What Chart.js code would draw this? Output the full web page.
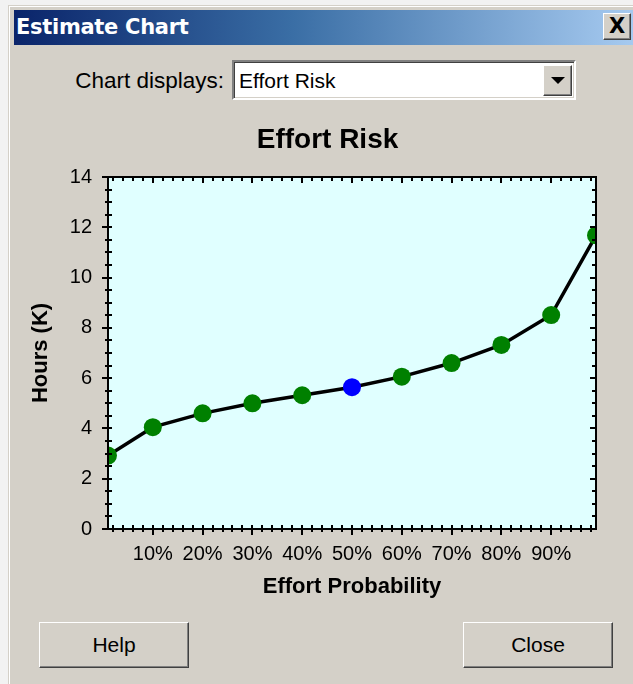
<!DOCTYPE html>
<html>
<head>
<meta charset="utf-8">
<script src="https://cdn.jsdelivr.net/npm/chart.js@4"></script>
<style>
html,body{margin:0;padding:0;width:633px;height:684px;overflow:hidden;background:#f2f2f2;font-family:"Liberation Sans",Arial,sans-serif;}
.abs{position:absolute;box-sizing:border-box;}
#win{left:9px;top:6px;width:640px;height:700px;background:#d4d0c8;border-left:1px solid #fff;border-top:1px solid #fff;outline:1px solid #d4d0c8;}
#titlebar{left:14px;top:10px;width:619px;height:35px;background:linear-gradient(to right,#0a246a 0%,#3a6ea5 45%,#a6caf0 100%);}
#titletext{left:16px;top:10px;height:35px;color:#fff;font:bold 21px "DejaVu Sans",sans-serif;line-height:35px;letter-spacing:-0.3px;white-space:nowrap;}
.raised{background:#d4d0c8;border:1px solid;border-color:#fff #404040 #404040 #fff;box-shadow:inset -1px -1px 0 #808080, inset 1px 1px 0 #d4d0c8;}
#closex{left:603px;top:13px;width:28px;height:27px;text-align:center;font:bold 21px "DejaVu Sans",sans-serif;line-height:25px;color:#000;}
#lbl{left:40px;top:66px;width:184px;height:30px;line-height:30px;text-align:right;font-size:22.5px;color:#000;white-space:nowrap;}
#combo{left:232px;top:60px;width:344px;height:40px;background:#fff;border:2px solid;border-color:#808080 #fff #fff #808080;box-shadow:inset 1px 1px 0 #404040, inset -1px -1px 0 #d4d0c8;}
#combotext{left:239px;top:66px;height:30px;line-height:30px;font-size:21px;color:#000;white-space:nowrap;}
#drop{left:543px;top:65px;width:29px;height:31px;}
#tri{left:551px;top:77px;width:0;height:0;border-left:7px solid transparent;border-right:7px solid transparent;border-top:7px solid #000;}
.btn{top:622px;height:46px;line-height:44px;text-align:center;font-size:21px;color:#000;}
#help{left:39px;width:150px;}
#close{left:463px;width:150px;}
#chart{position:absolute;left:0;top:105px;}
</style>
</head>
<body>
<div id="win" class="abs"></div>
<div id="titlebar" class="abs"></div>
<div id="titletext" class="abs">Estimate Chart</div>
<div id="closex" class="abs raised">X</div>
<div id="lbl" class="abs">Chart displays:</div>
<div id="combo" class="abs"></div>
<div id="combotext" class="abs">Effort Risk</div>
<div id="drop" class="abs raised"></div>
<div id="tri" class="abs"></div>
<div id="help" class="abs raised btn">Help</div>
<div id="close" class="abs raised btn">Close</div>
<canvas id="chart" width="633" height="510"></canvas>
<script>
// ---- data ----
const probabilities = [1, 10, 20, 30, 40, 50, 60, 70, 80, 90, 99];      // Effort probability (%)
const hoursK = [2.92, 4.05, 4.6, 5.0, 5.32, 5.64, 6.06, 6.6, 7.32, 8.51, 11.68]; // Hours (K)
const xTickValues = [10, 20, 30, 40, 50, 60, 70, 80, 90];
const yTickValues = [0, 2, 4, 6, 8, 10, 12, 14];
const highlightedProbability = 50;
const chartTitle = 'Effort Risk';
const xTitle = 'Effort Probability';
const yTitle = 'Hours (K)';

const FONT = '"Liberation Sans", Arial, sans-serif';
const X_MIN = 1, X_MAX = 99, Y_MIN = 0, Y_MAX = 14;
const X_MINOR = 2, Y_MINOR = 0.5;

const frameAndTicks = {
  id: 'frameAndTicks',
  beforeDatasetsDraw(chart) {
    const {ctx, chartArea: a} = chart;
    ctx.save();
    ctx.fillStyle = '#e0ffff';
    ctx.fillRect(a.left, a.top, a.right - a.left, a.bottom - a.top);
    ctx.restore();
  },
  afterDatasetsDraw(chart) {
    const {ctx, chartArea: a, scales: {x, y}} = chart;
    ctx.save();
    ctx.strokeStyle = '#000';
    ctx.lineWidth = 2;
    ctx.beginPath();
    // y-axis ticks (left crossing, right inward)
    for (let v = Y_MIN; v <= Y_MAX + 1e-9; v += Y_MINOR) {
      const major = yTickValues.some(t => Math.abs(t - v) < 1e-9);
      const py = Math.round(y.getPixelForValue(v));
      ctx.moveTo(a.left - (major ? 6 : 3), py);
      ctx.lineTo(a.left + 4, py);
      ctx.moveTo(a.right - (major ? 6 : 4), py);
      ctx.lineTo(a.right, py);
    }
    // x-axis ticks (bottom crossing, top inward)
    for (let v = 2; v < X_MAX; v += X_MINOR) {
      const major = xTickValues.includes(v);
      const px = Math.round(x.getPixelForValue(v));
      ctx.moveTo(px, a.bottom - 4);
      ctx.lineTo(px, a.bottom + (major ? 6 : 3));
      ctx.moveTo(px, a.top);
      ctx.lineTo(px, a.top + (major ? 6 : 4));
    }
    ctx.stroke();
    ctx.strokeRect(a.left, a.top, a.right - a.left, a.bottom - a.top);
    ctx.restore();
  }
};

new Chart(document.getElementById('chart'), {
  type: 'line',
  data: {
    datasets: [{
      data: probabilities.map((p, i) => ({x: p, y: hoursK[i]})),
      borderColor: '#000',
      borderWidth: 3.5,
      tension: 0,
      clip: 0,
      pointRadius: 9,
      pointBorderWidth: 0,
      pointBackgroundColor: ctx => probabilities[ctx.dataIndex] === highlightedProbability ? '#0000ff' : '#008000',
      pointBorderColor: ctx => probabilities[ctx.dataIndex] === highlightedProbability ? '#0000ff' : '#008000'
    }]
  },
  options: {
    responsive: false,
    animation: false,
    devicePixelRatio: 1,
    // left padding shifts the full-width title so it is centred where the reference has it
    layout: {padding: {left: 59, right: 37, top: 0, bottom: 0}},
    plugins: {
      legend: {display: false},
      tooltip: {enabled: false},
      title: {
        display: true, text: chartTitle, color: '#000',
        font: {family: FONT, size: 28, weight: 'bold', lineHeight: '30px'},
        padding: {top: 20, bottom: 22}
      }
    },
    scales: {
      x: {
        type: 'linear', min: X_MIN, max: X_MAX,
        afterBuildTicks: s => { s.ticks = xTickValues.map(v => ({value: v})); },
        afterFit: s => { s.height = 86; },
        grid: {display: false, drawTicks: false},
        border: {display: false},
        ticks: {padding: 13, color: '#000', autoSkip: false, maxRotation: 0,
                font: {family: FONT, size: 20}, callback: v => v + '%'},
        title: {display: true, text: xTitle, color: '#000',
                font: {family: FONT, size: 22, weight: 'bold'}, padding: {top: 0, bottom: 15}}
      },
      y: {
        min: Y_MIN, max: Y_MAX,
        afterBuildTicks: s => { s.ticks = yTickValues.map(v => ({value: v})); },
        afterFit: s => { s.width = 49; },
        grid: {display: false, drawTicks: false},
        border: {display: false},
        ticks: {padding: 16, color: '#000', font: {family: FONT, size: 20}},
        title: {display: true, text: yTitle, color: '#000',
                font: {family: FONT, size: 22, weight: 'bold'}, padding: {top: -31, bottom: 0}}
      }
    }
  },
  plugins: [frameAndTicks]
});
</script>
</body>
</html>
